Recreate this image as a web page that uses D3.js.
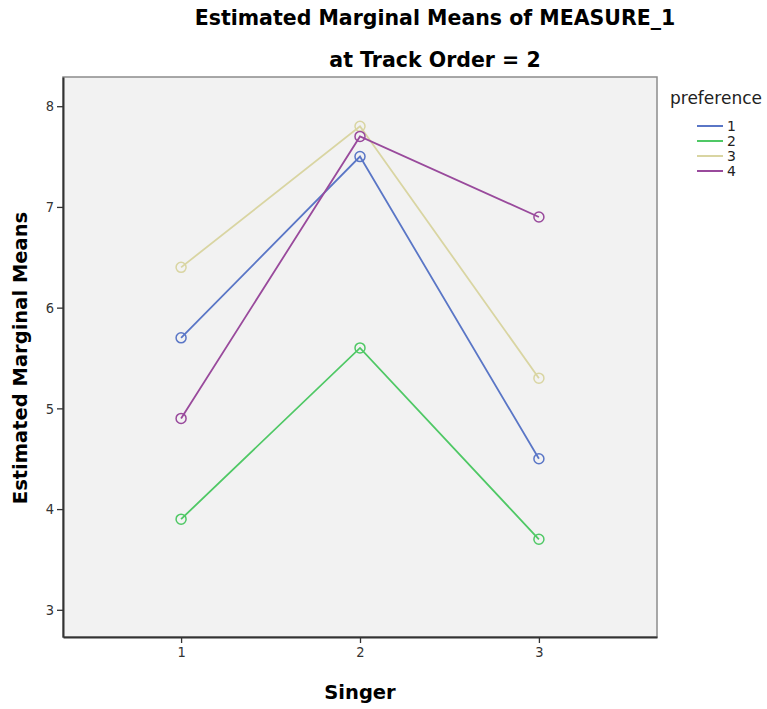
<!DOCTYPE html>
<html>
<head>
<meta charset="utf-8">
<script src="https://cdn.jsdelivr.net/npm/d3@7"></script>
<style>
  body { margin: 0; background: #fff; }
  text { font-family: "DejaVu Sans", sans-serif; }
</style>
</head>
<body>
<script>
// singer levels on the x axis
var singers = [1, 2, 3];
var yTicks = [3, 4, 5, 6, 7, 8];
var preferences = ["1", "2", "3", "4"];
var colors = ["#5a76c6", "#4fc865", "#d9d5a2", "#994a9c"];
// estimated marginal means, one array per preference level
var pref1 = [5.7, 7.5, 4.5];
var pref2 = [3.9, 5.6, 3.7];
var pref3 = [6.4, 7.8, 5.3];
var pref4 = [4.9, 7.7, 6.9];
var series = [pref1, pref2, pref3, pref4];

var width = 767, height = 709;
var plot = {left: 63, right: 657, top: 77, bottom: 637};

var svg = d3.select("body").append("svg")
    .attr("width", width)
    .attr("height", height);

var x = d3.scaleLinear().domain([0.34, 3.66]).range([plot.left, plot.right]);
var y = d3.scaleLinear().domain([2.73, 8.29]).range([plot.bottom, plot.top]);

// plot background + frame
svg.append("rect")
    .attr("x", plot.left).attr("y", plot.top)
    .attr("width", plot.right - plot.left).attr("height", plot.bottom - plot.top)
    .attr("fill", "#f2f2f2")
    .attr("stroke", "#8c8c8c")
    .attr("stroke-width", 1.5);

// axes
var xAxis = svg.append("g")
    .attr("transform", "translate(0," + plot.bottom + ")")
    .call(d3.axisBottom(x).tickValues(singers).tickSizeInner(6).tickSizeOuter(0).tickPadding(4).tickFormat(d3.format("d")));
var yAxis = svg.append("g")
    .attr("transform", "translate(" + plot.left + ",0)")
    .call(d3.axisLeft(y).tickValues(yTicks).tickSizeInner(6).tickSizeOuter(0).tickPadding(3).tickFormat(d3.format("d")));

[xAxis, yAxis].forEach(function(a) {
  a.select(".domain").attr("stroke", "#333").attr("stroke-width", 2);
  a.selectAll(".tick line").attr("stroke", "#333").attr("stroke-width", 1.3);
  a.selectAll(".tick text").attr("fill", "#333").style("font-size", "14.5px")
    .style("font-family", "'DejaVu Sans Condensed', 'DejaVu Sans', sans-serif");
});

// lines
var line = d3.line()
    .x(function(d, i) { return x(singers[i]); })
    .y(function(d) { return y(d); });

series.forEach(function(vals, k) {
  var g = svg.append("g");
  g.append("path")
      .datum(vals)
      .attr("d", line)
      .attr("fill", "none")
      .attr("stroke", colors[k])
      .attr("stroke-width", 1.8);
  g.selectAll("circle")
      .data(vals)
      .enter().append("circle")
      .attr("cx", function(d, i) { return x(singers[i]); })
      .attr("cy", function(d) { return y(d); })
      .attr("r", 5)
      .attr("fill", "none")
      .attr("stroke", colors[k])
      .attr("stroke-width", 1.5);
});

// titles
svg.append("text")
    .attr("x", 435).attr("y", 25)
    .attr("text-anchor", "middle")
    .style("font-size", "20.5px").style("font-weight", "bold")
    .text("Estimated Marginal Means of MEASURE_1");
svg.append("text")
    .attr("x", 435).attr("y", 67)
    .attr("text-anchor", "middle")
    .style("font-size", "20.5px").style("font-weight", "bold")
    .text("at Track Order = 2");

svg.append("text")
    .attr("x", 360).attr("y", 699)
    .attr("text-anchor", "middle")
    .style("font-size", "19.5px").style("font-weight", "bold")
    .text("Singer");

svg.append("text")
    .attr("transform", "translate(27,358) rotate(-90)")
    .attr("text-anchor", "middle")
    .style("font-size", "19.5px").style("font-weight", "bold")
    .text("Estimated Marginal Means");

// legend
var legend = svg.append("g").attr("transform", "translate(670,0)");
legend.append("text")
    .attr("x", 0).attr("y", 104)
    .style("font-size", "17px").attr("fill", "#222")
    .text("preference");
preferences.forEach(function(p, k) {
  var ly = 126 + k * 15;
  legend.append("line")
      .attr("x1", 27).attr("x2", 53)
      .attr("y1", ly).attr("y2", ly)
      .attr("stroke", colors[k]).attr("stroke-width", 2);
  legend.append("text")
      .attr("x", 57).attr("y", ly + 5)
      .style("font-size", "14px").attr("fill", "#222")
      .text(p);
});
</script>
</body>
</html>
